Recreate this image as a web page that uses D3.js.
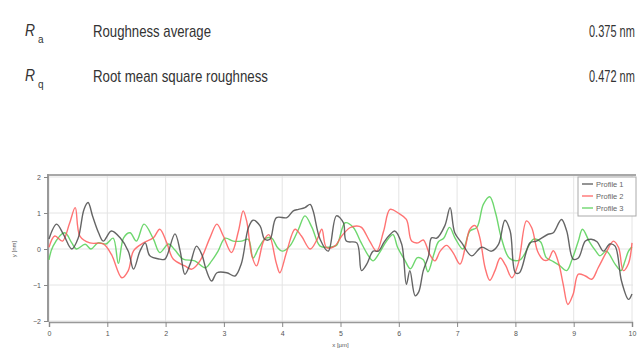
<!DOCTYPE html>
<html>
<head>
<meta charset="utf-8">
<script src="https://cdn.jsdelivr.net/npm/d3@7"></script>
<style>
  html, body { margin: 0; padding: 0; background: #fff; }
  svg { display: block; }
</style>
</head>
<body>
<div id="chart"></div>
<script>
// Roughness summary rows
const paramSymbols = ["a", "q"];
const paramNames = ["Roughness average", "Root mean square roughness"];
const paramValues = ["0.375 nm", "0.472 nm"];

// Line profiles: x in µm, height in nm
const seriesNames = ["Profile 1", "Profile 2", "Profile 3"];
const profile1X = [0,0.13,0.25,0.39,0.5,0.6,0.67,0.75,0.85,0.93,1.07,1.22,1.36,1.45,1.56,1.65,1.73,1.9,1.99,2.16,2.25,2.33,2.42,2.53,2.62,2.7,2.79,2.88,3.05,3.19,3.3,3.42,3.5,3.62,3.7,3.79,3.9,4.08,4.19,4.28,4.39,4.48,4.53,4.65,4.79,4.93,5.05,5.1,5.28,5.36,5.45,5.56,5.65,5.75,5.85,5.93,6.05,6.13,6.19,6.28,6.34,6.42,6.51,6.56,6.65,6.79,6.88,6.96,7.08,7.25,7.42,7.59,7.71,7.82,7.91,8.0,8.07,8.25,8.36,8.56,8.65,8.79,8.88,8.99,9.08,9.2,9.3,9.4,9.51,9.62,9.71,9.82,9.94,10.0];
const profile1Y = [0.28,0.69,0.4,0.0,0.3,1.1,1.29,0.9,0.45,0.22,0.5,0.31,-0.06,-0.56,-0.06,0.17,-0.19,-0.28,-0.28,0.42,-0.06,-0.7,-0.42,0.08,-0.15,-0.6,-0.89,-0.66,-0.66,-0.75,-0.4,0.59,0.8,0.64,0.27,0.27,0.87,0.87,1.06,1.1,1.15,1.24,1.06,0.27,-0.06,0.92,0.73,0.22,0.17,-0.6,-0.42,-0.06,-0.06,0.2,0.4,0.5,0.13,-0.98,-0.6,-1.3,-1.2,-0.6,-0.19,0.31,0.3,0.65,1.15,0.45,0.17,-0.19,0.05,-0.06,0.13,0.8,0.5,-0.66,-0.66,0.17,0.22,0.41,0.45,0.82,0.5,-0.28,-0.25,0.22,0.27,0.2,-0.06,0.14,0.08,-0.89,-1.4,-1.25];
const profile2X = [0,0.1,0.23,0.35,0.45,0.53,0.7,0.93,1.07,1.25,1.36,1.45,1.62,1.79,1.9,2.02,2.13,2.33,2.45,2.59,2.76,2.88,2.99,3.13,3.25,3.33,3.39,3.48,3.56,3.68,3.77,3.9,3.96,4.08,4.22,4.33,4.48,4.6,4.68,4.76,4.9,5.02,5.16,5.28,5.36,5.5,5.62,5.74,5.85,5.99,6.13,6.22,6.33,6.42,6.53,6.62,6.71,6.82,6.93,7.05,7.14,7.22,7.31,7.39,7.48,7.56,7.65,7.74,7.83,7.94,8.05,8.19,8.28,8.38,8.48,8.56,8.65,8.74,8.82,8.9,8.99,9.08,9.2,9.31,9.42,9.57,9.68,9.77,9.85,9.94,10.0];
const profile2Y = [0.05,0.36,0.22,0.7,1.15,0.36,0.17,0.14,-0.15,-0.8,-0.6,-0.05,0.17,0.31,0.55,0.17,-0.28,-0.47,-0.56,-0.33,0.31,0.69,0.36,-0.1,0.5,1.06,0.78,-0.19,-0.47,0.22,0.4,-0.4,-0.66,-0.06,0.55,0.36,0.0,0.27,0.55,0.04,0.08,0.36,0.59,0.64,0.6,0.22,-0.06,0.5,1.1,1.0,0.82,0.22,0.17,0.25,-0.15,-0.33,-0.06,0.1,-0.1,-0.42,0.04,0.55,0.65,0.31,-0.52,-0.87,-0.6,-0.25,-0.45,-0.8,-0.4,0.78,0.59,-0.06,-0.3,-0.3,-0.05,-0.38,-0.98,-1.54,-1.26,-0.7,-0.75,-0.84,-0.52,-0.06,0.22,0.04,-0.6,-0.4,0.17];
const profile3X = [0,0.07,0.27,0.39,0.47,0.62,0.72,0.84,0.98,1.1,1.19,1.28,1.39,1.5,1.63,1.79,1.9,2.05,2.16,2.3,2.5,2.68,2.79,2.9,3.02,3.16,3.3,3.42,3.5,3.6,3.72,3.82,3.92,4.0,4.13,4.28,4.39,4.51,4.65,4.8,4.93,5.08,5.22,5.34,5.48,5.56,5.67,5.79,5.9,5.98,6.1,6.2,6.32,6.42,6.5,6.6,6.68,6.77,6.87,6.97,7.1,7.22,7.34,7.45,7.56,7.66,7.76,7.9,8.08,8.31,8.43,8.53,8.65,8.75,8.88,8.97,9.08,9.15,9.27,9.38,9.45,9.56,9.71,9.81,9.88,9.94,10.0];
const profile3Y = [-0.3,0.08,0.45,0.17,0.0,0.13,0.0,0.17,0.14,0.3,-0.4,0.31,0.45,0.22,0.69,0.28,-0.1,0.14,-0.03,-0.28,-0.33,-0.52,-0.33,-0.06,0.3,0.22,0.22,0.27,-0.25,0.04,0.3,0.3,0.04,-0.06,0.08,0.55,0.92,0.6,0.08,0.05,0.1,0.73,0.6,0.22,-0.19,-0.33,-0.1,0.22,0.4,0.04,-0.3,-0.55,-0.24,-0.3,-0.63,-0.15,0.2,0.3,0.6,0.29,0.0,0.5,0.6,1.24,1.45,1.0,0.3,-0.26,-0.3,0.27,0.2,-0.24,-0.35,-0.45,-0.6,-0.3,0.22,0.55,0.2,-0.06,-0.19,-0.06,-0.42,-0.6,-0.33,-0.06,0.06];
const seriesColors = ["#4a4a4a", "#ff5a5a", "#55d055"];

const xTicks = [0,1,2,3,4,5,6,7,8,9,10];
const yTicks = [-2,-1,0,1,2];

const W = 638, H = 350;
const svg = d3.select("#chart").append("svg").attr("width", W).attr("height", H)
  .style("font-family", "'Liberation Sans', Arial, sans-serif");

// Summary table (condensed lettering)
const rowY = [37, 82];
paramNames.forEach((name, i) => {
  const g = svg.append("g");
  g.append("text").attr("x", 25).attr("y", rowY[i] - 1).attr("fill", "#333")
    .style("font-size", "17px").style("font-style", "italic")
    .attr("textLength", 10).attr("lengthAdjust", "spacingAndGlyphs").text("R");
  g.append("text").attr("x", 38).attr("y", rowY[i] + 6).attr("fill", "#333")
    .style("font-size", "10px").text(paramSymbols[i]);
  g.append("text").attr("x", 93).attr("y", rowY[i]).attr("fill", "#333")
    .style("font-size", "17px")
    .attr("textLength", i === 0 ? 118 : 175).attr("lengthAdjust", "spacingAndGlyphs")
    .text(name);
  // value: narrow glyphs stretched vertically
  g.append("text").attr("transform", `translate(589,${rowY[i]}) scale(1,1.5)`).attr("fill", "#333")
    .style("font-size", "11px")
    .text(paramValues[i]);
});

// Profile plot
const m = { left: 48, right: 633, top: 176, bottom: 322 };
const x = d3.scaleLinear().domain([0, 10]).range([49, 632]);
const y = d3.scaleLinear().domain([-2, 2]).range([321, 177]);

// grid
svg.append("g").selectAll("line").data(xTicks).join("line")
  .attr("x1", d => x(d)).attr("x2", d => x(d)).attr("y1", m.top).attr("y2", m.bottom)
  .attr("stroke", "#e4e4e4").attr("stroke-width", 1);
svg.append("g").selectAll("line").data(yTicks).join("line")
  .attr("x1", m.left).attr("x2", m.right).attr("y1", d => y(d)).attr("y2", d => y(d))
  .attr("stroke", "#e4e4e4").attr("stroke-width", 1);

// frame: top border
svg.append("line").attr("x1", m.left - 1).attr("x2", 636).attr("y1", m.top - 1).attr("y2", m.top - 1)
  .attr("stroke", "#a8a8a8").attr("stroke-width", 2);

// x axis with minor ticks every 0.1 µm
const xAxisG = svg.append("g").attr("transform", `translate(0,${m.bottom})`);
xAxisG.call(d3.axisBottom(x).tickValues(d3.range(0, 100.5, 1).map(d => d / 10)).tickSize(3).tickFormat(""));
xAxisG.call(d3.axisBottom(x).tickValues(xTicks).tickSize(5).tickFormat(d3.format("d")));
xAxisG.selectAll(".domain").attr("stroke", "#999").attr("stroke-width", 1.5);
xAxisG.selectAll(".tick line").attr("stroke", "#888");
xAxisG.selectAll(".tick text").attr("fill", "#555").style("font-size", "7px").attr("dy", "0.9em");

// y axis
const yAxisG = svg.append("g").attr("transform", `translate(${m.left},0)`);
yAxisG.call(d3.axisLeft(y).tickValues(yTicks).tickSize(4).tickFormat(d3.format("d")));
yAxisG.select(".domain").attr("stroke", "#999").attr("stroke-width", 2)
  .attr("d", `M0,${m.top - 2}V${m.bottom}`);
yAxisG.selectAll(".tick line").attr("stroke", "#888");
yAxisG.selectAll(".tick text").attr("fill", "#555").style("font-size", "7px");

// axis titles
svg.append("text").attr("x", x(5)).attr("y", 347).attr("text-anchor", "middle")
  .attr("fill", "#555").style("font-size", "6px").text("x [µm]");
svg.append("text").attr("transform", `translate(16,${y(0)}) rotate(-90)`).attr("text-anchor", "middle")
  .attr("fill", "#555").style("font-size", "6px").text("y [nm]");

// profiles
const profiles = [
  d3.zip(profile1X, profile1Y),
  d3.zip(profile2X, profile2Y),
  d3.zip(profile3X, profile3Y)
];
const line = d3.line().x(d => x(d[0])).y(d => y(d[1])).curve(d3.curveCatmullRom.alpha(0.5));
const drawOrder = [2, 1, 0];
svg.append("g").selectAll("path").data(drawOrder).join("path")
  .attr("d", i => line(profiles[i]))
  .attr("fill", "none")
  .attr("stroke", i => seriesColors[i])
  .attr("stroke-width", 1.4)
  .attr("stroke-opacity", 0.85)
  .attr("stroke-linejoin", "round");

// legend
const lg = svg.append("g").attr("transform", "translate(578,177)");
lg.append("rect").attr("width", 58).attr("height", 39).attr("fill", "#fff")
  .attr("stroke", "#aaa").attr("stroke-width", 1);
seriesNames.forEach((name, i) => {
  const yy = 7 + i * 12;
  lg.append("line").attr("x1", 4).attr("x2", 15).attr("y1", yy).attr("y2", yy)
    .attr("stroke", seriesColors[i]).attr("stroke-width", 1.4).attr("stroke-opacity", 0.85);
  lg.append("text").attr("x", 18).attr("y", yy + 2.5).attr("fill", "#666")
    .style("font-size", "7.5px").text(name);
});
</script>
</body>
</html>
